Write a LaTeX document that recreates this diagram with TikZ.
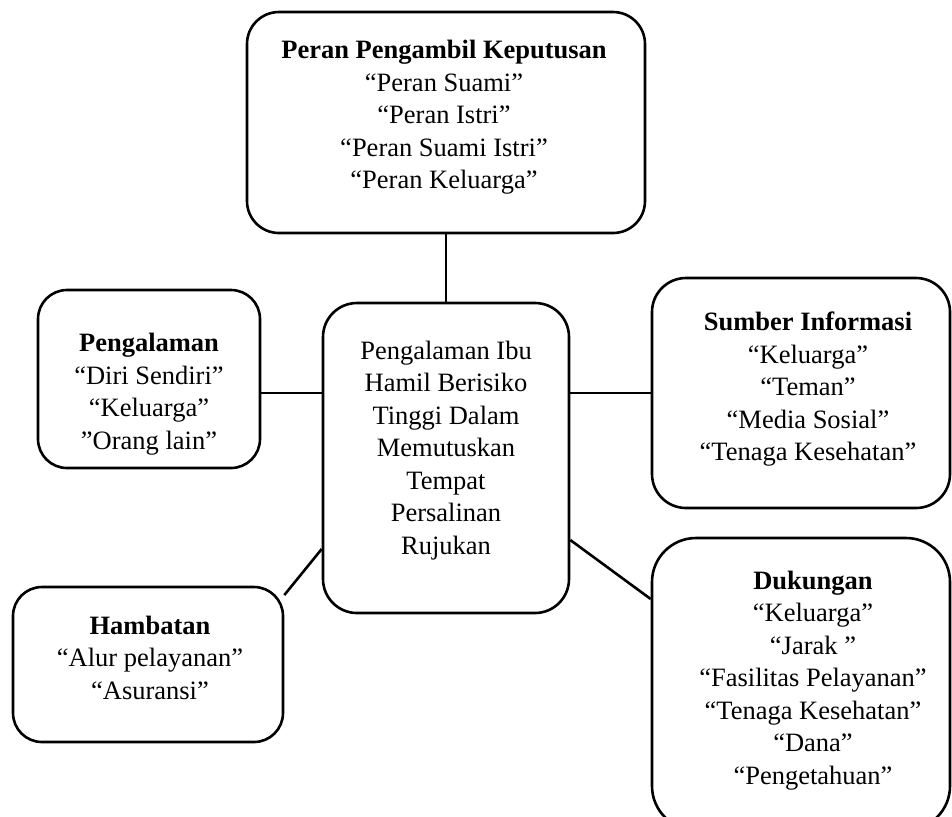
\documentclass[tikz,border=0pt]{standalone}
\usepackage{fontspec}
\setmainfont{Liberation Serif}

\begin{document}
\begin{tikzpicture}[x=0.5pt, y=-0.5pt,
    kotak/.style={draw, line width=1.3pt, inner sep=0pt},
    isi/.style={align=center, inner sep=0pt, font=\fontsize{13.25}{16.25}\selectfont}]
    \useasboundingbox (0,0) rectangle (952,816);

    % kotak-kotak
    \node[kotak, rounded corners=16pt, minimum width=199pt, minimum height=110.5pt] (peran) at (446,122.5) {};
    \node[kotak, rounded corners=17pt, minimum width=123pt, minimum height=155pt] (tengah) at (446,458) {};
    \node[kotak, rounded corners=14.5pt, minimum width=111pt, minimum height=89pt] (pengalaman) at (149,379) {};
    \node[kotak, rounded corners=17pt, minimum width=149pt, minimum height=115pt] (sumber) at (801,393) {};
    \node[kotak, rounded corners=14.5pt, minimum width=135pt, minimum height=77.5pt] (hambatan) at (148,664.5) {};
    \node[kotak, rounded corners=22pt, minimum width=149pt, minimum height=146pt] (dukungan) at (801,684) {};

    % isi kotak
    \node[isi] (tPeran) at (444,117.5) {\textbf{Peran Pengambil Keputusan}\\“Peran Suami”\\“Peran Istri”\\“Peran Suami Istri”\\“Peran Keluarga”};
    \node[isi] (tTengah) at (446,450.5) {Pengalaman Ibu\\Hamil Berisiko\\Tinggi Dalam\\Memutuskan\\Tempat\\Persalinan\\Rujukan};
    \node[isi] (tPengalaman) at (149,394) {\textbf{Pengalaman}\\“Diri Sendiri”\\“Keluarga”\\”Orang lain”};
    \node[isi] (tSumber) at (808,389.5) {\textbf{Sumber Informasi}\\“Keluarga”\\“Teman”\\“Media Sosial”\\“Tenaga Kesehatan”};
    \node[isi] (tHambatan) at (150,657.5) {\textbf{Hambatan}\\“Alur pelayanan”\\“Asuransi”};
    \node[isi] (tDukungan) at (813,680.5) {\textbf{Dukungan}\\“Keluarga”\\“Jarak ”\\“Fasilitas Pelayanan”\\“Tenaga Kesehatan”\\“Dana”\\“Pengetahuan”};

    % garis
    \draw[line width=1.3pt] (peran) -- (tengah);
    \draw[line width=1.3pt] ([yshift=-7pt]pengalaman.east) -- ([yshift=32.5pt]tengah.west);
    \draw[line width=1.3pt] ([yshift=32.5pt]tengah.east) -- (sumber.west);
    \draw[line width=1.3pt] ([yshift=-45.5pt]tengah.west) -- (hambatan.27);
    \draw[line width=1.3pt] ([yshift=-41pt]tengah.east) -- ([yshift=42.5pt]dukungan.west);
\end{tikzpicture}
\end{document}
